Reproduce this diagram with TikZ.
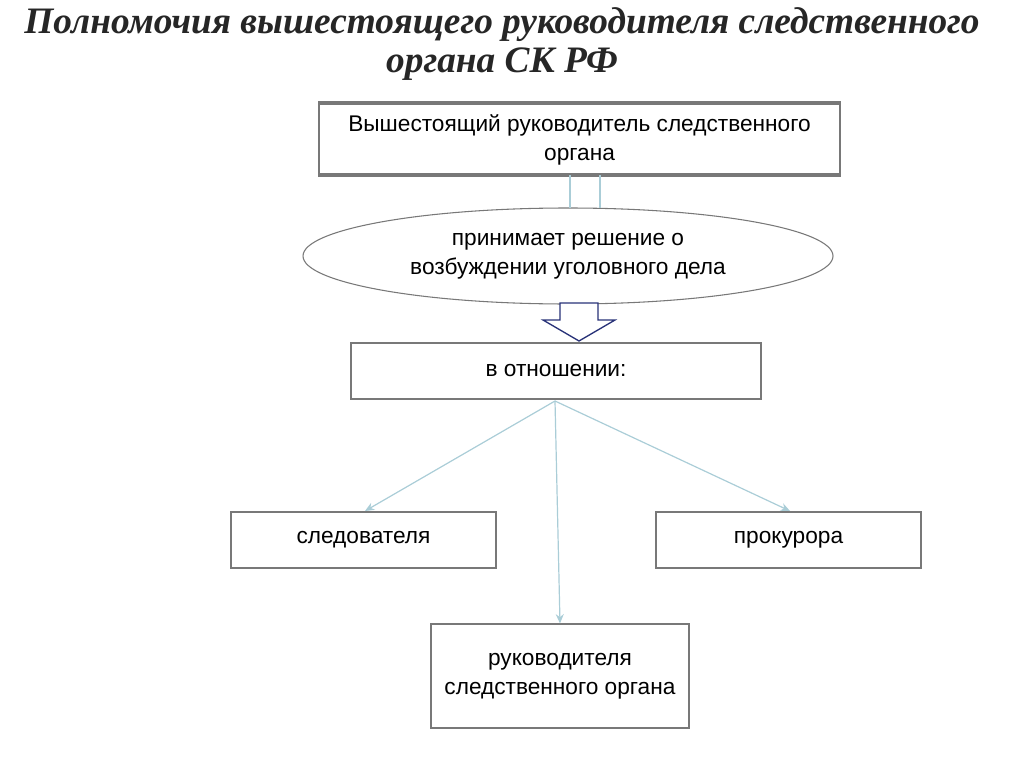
\documentclass[tikz,border=0pt]{standalone}
\usepackage{fontspec}
\setmainfont{Liberation Sans}
\newfontfamily\ttl{Liberation Serif}
\usetikzlibrary{shapes.geometric,arrows.meta}
\definecolor{bx}{RGB}{120,120,120}
\definecolor{ln}{RGB}{170,205,215}
\definecolor{nv}{RGB}{40,50,120}
\tikzset{box/.style={draw=bx,line width=0.8pt,align=center,font=\fontsize{17}{22}\selectfont},
conn/.style={draw=ln,line width=0.9pt,-{Stealth[length=7pt,width=6pt]}}}
\begin{document}
\begin{tikzpicture}[x=0.75pt,y=-0.75pt]
\useasboundingbox (0,0) rectangle (1024,767);
\node[font=\ttl\bfseries\itshape\fontsize{28}{29}\selectfont,text=black!85,align=center] (t) at (502,44) {Полномочия вышестоящего руководителя следственного\\органа СК РФ};
\node[box,minimum width=390.75pt,minimum height=54pt] (top) at (579.5,140) {Вышестоящий руководитель следственного\\органа};
\draw[bx,line width=0.8pt] (319,102) rectangle (840,174);
\node[ellipse,draw=bx,line width=0.8pt,minimum width=397.5pt,minimum height=72pt,align=center,font=\fontsize{17}{22}\selectfont] (el) at (568,256) {принимает решение о\\возбуждении уголовного дела};
\coordinate (c1) at (570,175); \coordinate (c2) at (600,175);
\draw[ln,line width=0.9pt] (c1) -- ++(0,33);
\draw[ln,line width=0.9pt] (c2) -- ++(0,33);
\node[box,minimum width=307.5pt,minimum height=42pt] (rel) at (556,371) {в отношении:};
\draw[nv,line width=1pt,fill=white] (560,303) -- (598,303) -- (598,320) -- (615,320) -- (579,341) -- (543,320) -- (560,320) -- cycle;
\node[box,minimum width=198.75pt,minimum height=42pt] (l) at (363.5,540) {следователя};
\node[box,minimum width=198.75pt,minimum height=42pt] (r) at (788.5,540) {прокурора};
\node[box,minimum width=193.5pt,minimum height=78pt] (b) at (560,676) {руководителя\\следственного органа};
\coordinate (s) at (555,401);
\draw[conn] (s) -- (365,511);
\draw[conn] (s) -- (790,511);
\draw[conn] (s) -- (b.north);
\end{tikzpicture}
\end{document}
